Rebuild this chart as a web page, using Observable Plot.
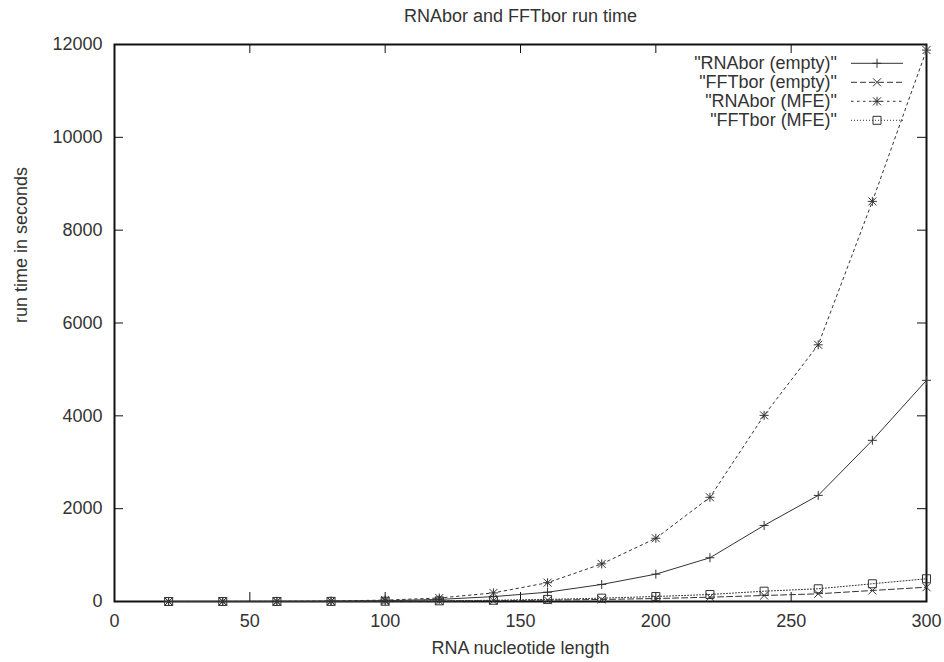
<!DOCTYPE html>
<html>
<head>
<meta charset="utf-8">
<script src="https://cdn.jsdelivr.net/npm/d3@7"></script>
<script src="https://cdn.jsdelivr.net/npm/@observablehq/plot@0.6"></script>
<style>
  body { margin: 0; background: #fff; }
  #chart { position: relative; width: 944px; height: 662px; }
  #chart svg { display: block; }
  #legend { position: absolute; left: 0; top: 0; pointer-events: none; }
</style>
</head>
<body>
<div id="chart"></div>
<script>
// ---- data ----
const title = "RNAbor and FFTbor run time";
const xLabel = "RNA nucleotide length";
const yLabel = "run time in seconds";

const lengths     = [20, 40, 60, 80, 100, 120, 140, 160, 180, 200, 220, 240, 260, 280, 300];
const rnaborEmpty = [0.05, 0.4, 1.5, 5, 17, 45, 105, 200, 367, 589, 942, 1639, 2286, 3472, 4765];
const fftborEmpty = [0.02, 0.15, 0.5, 1.5, 4, 9, 17, 29, 44, 64, 93, 129, 166, 237, 308];
const rnaborMFE   = [0.1, 1, 3, 10, 30, 75, 185, 405, 810, 1362, 2245, 4010, 5530, 8620, 11880];
const fftborMFE   = [0.05, 0.3, 1, 2.5, 6, 14, 27, 45, 72, 108, 151, 222, 274, 382, 490];

const seriesNames = ['"RNAbor (empty)"', '"FFTbor (empty)"', '"RNAbor (MFE)"', '"FFTbor (MFE)"'];
const seriesValues = [rnaborEmpty, fftborEmpty, rnaborMFE, fftborMFE];

const xTicks = [0, 50, 100, 150, 200, 250, 300];
const yTicks = [0, 2000, 4000, 6000, 8000, 10000, 12000];

// ---- styles ----
const W = 944, H = 662;
const mL = 114, mR = 18, mT = 44, mB = 61;
const innerW = W - mL - mR, innerH = H - mT - mB;
const ink = "#333";
const axisInk = "#111";
const font = "'Liberation Sans', Arial, Helvetica, sans-serif";

const symPlus = {draw(c) { const r = 4.5; c.moveTo(-r, 0); c.lineTo(r, 0); c.moveTo(0, -r); c.lineTo(0, r); }};
const symTimes = {draw(c) { const r = 4; c.moveTo(-r, -r); c.lineTo(r, r); c.moveTo(-r, r); c.lineTo(r, -r); }};
const symStar = {draw(c) { symPlus.draw(c); symTimes.draw(c); }};
const symSquare = {draw(c) { const r = 4; c.moveTo(-r, -r); c.lineTo(r, -r); c.lineTo(r, r); c.lineTo(-r, r); c.closePath(); }};

const seriesStyle = [
  {symbol: symPlus, dash: null},
  {symbol: symTimes, dash: "6,3"},
  {symbol: symStar, dash: "2.5,3.5"},
  {symbol: symSquare, dash: "1,2"}
];

const rows = seriesValues.map((vals, s) => lengths.map((x, i) => ({series: seriesNames[s], x, y: vals[i]})));

const marks = [
  Plot.frame({stroke: axisInk, strokeWidth: 2}),
  Plot.ruleX(xTicks, {x: d => d, insetTop: innerH - 9, stroke: axisInk}),
  Plot.ruleX(xTicks, {x: d => d, insetBottom: innerH - 9, stroke: axisInk}),
  Plot.ruleY(yTicks, {y: d => d, insetRight: innerW - 9, stroke: axisInk}),
  Plot.ruleY(yTicks, {y: d => d, insetLeft: innerW - 9, stroke: axisInk}),
  Plot.axisX(xTicks, {tickSize: 0, tickPadding: 13, label: null, fill: ink, fontSize: 18, tickFormat: d => String(d)}),
  Plot.axisY(yTicks, {tickSize: 0, tickPadding: 12, label: null, fill: ink, fontSize: 18, tickFormat: d => String(d)}),
  Plot.text([title], {text: d => d, frameAnchor: "top", lineAnchor: "middle", dy: -28, fill: ink, fontSize: 18}),
  Plot.text([xLabel], {text: d => d, frameAnchor: "bottom", lineAnchor: "middle", dy: 47, fill: ink, fontSize: 18}),
  Plot.text([yLabel], {text: d => d, frameAnchor: "left", lineAnchor: "middle", rotate: -90, dx: -93, fill: ink, fontSize: 18})
];
rows.forEach((data, s) => {
  marks.push(Plot.line(data, {x: "x", y: "y", stroke: ink, strokeWidth: 1, strokeDasharray: seriesStyle[s].dash}));
});
rows.forEach((data, s) => {
  marks.push(Plot.dot(data, {x: "x", y: "y", symbol: seriesStyle[s].symbol, stroke: ink, fill: "none", strokeWidth: 1}));
});

const chart = Plot.plot({
  width: W, height: H,
  marginLeft: mL, marginRight: mR, marginTop: mT, marginBottom: mB,
  x: {domain: [0, 300]},
  y: {domain: [0, 12000]},
  style: {fontFamily: font, fontSize: "18px", background: "#fff", color: ink},
  marks
});
const host = document.getElementById("chart");
host.appendChild(chart);

// ---- legend (top-right, inside plot) ----
const leg = d3.select(host).append("svg").attr("id", "legend").attr("width", W).attr("height", H)
  .style("font-family", font).style("font-size", "18px");
seriesNames.forEach((name, i) => {
  const y = 63.3 + i * 19;
  const g = leg.append("g");
  g.append("text").attr("x", 837).attr("y", y).attr("dy", "0.32em").attr("text-anchor", "end").attr("fill", ink).text(name);
  g.append("line").attr("x1", 851).attr("x2", 903).attr("y1", y).attr("y2", y)
    .attr("stroke", ink).attr("stroke-width", 1).attr("stroke-dasharray", seriesStyle[i].dash);
  g.append("path").attr("transform", `translate(877,${y})`).attr("d", d3.symbol(seriesStyle[i].symbol)())
    .attr("fill", "none").attr("stroke", ink).attr("stroke-width", 1);
});
</script>
</body>
</html>
